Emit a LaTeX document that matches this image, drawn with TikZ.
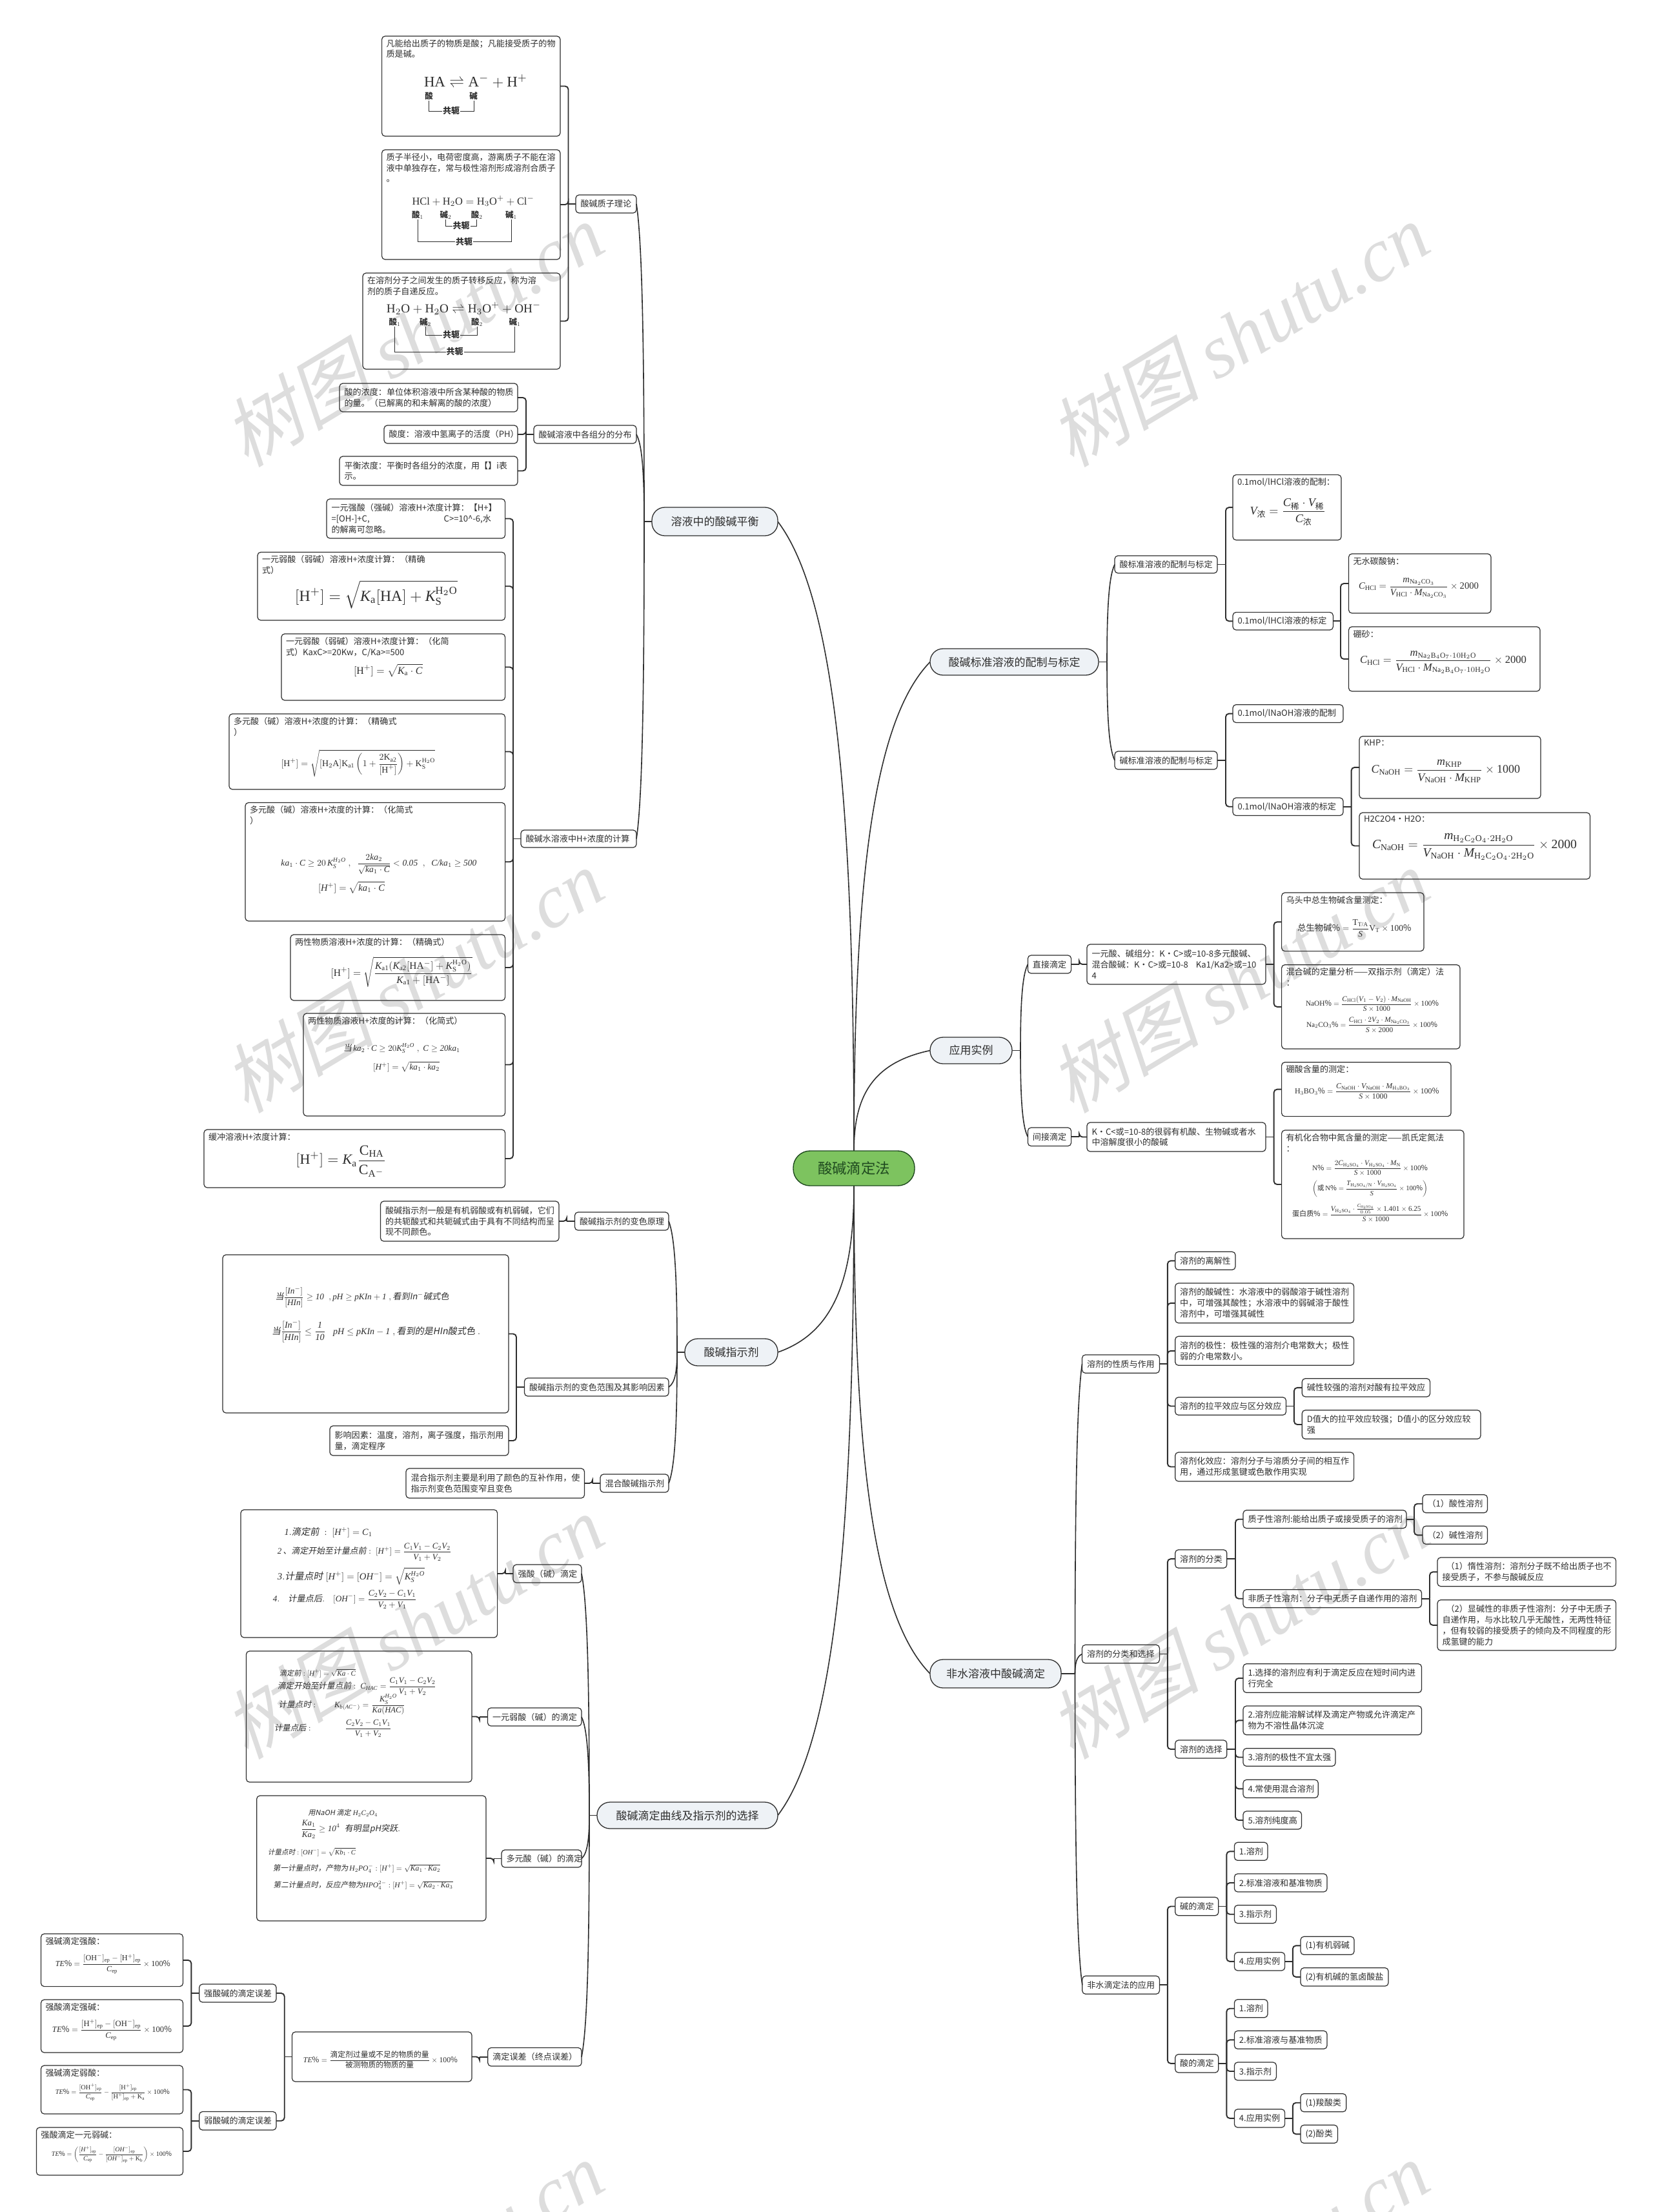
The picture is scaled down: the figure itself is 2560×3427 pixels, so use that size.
\documentclass[tikz,border=0pt]{standalone}
\usepackage{amsmath}
\usepackage{graphicx}
\usepackage{fontspec}
\setmainfont{Noto Sans CJK SC}
\newfontfamily\tnr{Liberation Serif}
\newfontfamily\hand[FakeSlant=0.18]{Noto Sans CJK SC}
\newfontfamily\wmcjk[FakeSlant=0.22]{Noto Sans CJK SC}
\usetikzlibrary{calc,backgrounds}
\providecommand{\geqslant}{\geq}
\providecommand{\leqslant}{\leq}
\definecolor{ink}{HTML}{2E2E2E}
\definecolor{wm}{HTML}{DDDDDD}
\definecolor{pillfill}{HTML}{EEF2F6}
\definecolor{rootfill}{HTML}{7DC35F}
\definecolor{rootink}{HTML}{1F4A1F}
\tikzset{
  leaf/.style={draw=ink,line width=1.2pt,rounded corners=5pt,inner sep=0pt,outer sep=0pt,align=left,text=ink,font=\fontsize{13.1pt}{16.9pt}\selectfont},
  txt/.style={inner sep=0pt,outer sep=0pt,align=left,text=ink,font=\fontsize{13.1pt}{16.9pt}\selectfont},
  pillst/.style={draw=ink,line width=1.3pt,rounded corners=20pt,fill=pillfill,inner sep=0pt,outer sep=0pt,text=ink,font=\fontsize{17pt}{20pt}\selectfont},
  rootst/.style={draw=rootink,line width=1.4pt,rounded corners=26pt,fill=rootfill,inner sep=0pt,outer sep=0pt,text=rootink,font=\fontsize{22.4pt}{26pt}\selectfont},
  conn/.style={draw=ink,line width=1.9pt},
  main/.style={draw=ink,line width=1.6pt},
  fine/.style={draw=ink,line width=0.9pt},
  fmst/.style={inner sep=0pt,outer sep=0pt,text=ink,font=\normalsize},
  cl/.style={inner sep=0pt,outer sep=0pt,text=ink,font=\fontsize{12.5pt}{14pt}\selectfont\bfseries},
  cjl/.style={inner sep=1pt,outer sep=0pt,fill=white,text=ink,font=\fontsize{13pt}{14pt}\selectfont\bfseries},
  wmst/.style={inner sep=0pt,outer sep=0pt,rotate=31,text=wm},
}
% box with vertically centred text
\newcommand{\bx}[6]{\node[leaf,minimum width={(#4-#2)*1pt},minimum height={(#5-#3)*1pt},text width={(#4-#2-15)*1pt}] (#1) at ({(#2+#4)/2},{(#3+#5)/2}) {#6};}
% box with text at the top
\newcommand{\fb}[6]{\node[leaf,minimum width={(#4-#2)*1pt},minimum height={(#5-#3)*1pt}] (#1) at ({(#2+#4)/2},{(#3+#5)/2}) {};
 \node[txt,anchor=north west] (#1-t) at ({#2+7},{#3+5}) {#6};}
\newcommand{\pl}[6]{\node[pillst,minimum width={(#4-#2)*1pt},minimum height={(#5-#3)*1pt}] (#1) at ({(#2+#4)/2},{(#3+#5)/2}) {#6};}
% formula fitted between x1 and x2
\newcommand{\fm}[5]{\node[fmst] (#1) at ({(#2+#3)/2},#4) {\resizebox{\dimexpr #3pt-#2pt\relax}{!}{$\displaystyle #5$}};}
% link parent to child
\newcommand{\lkL}[3]{\draw[conn] (#1.west) -- (#3,0 |- #1.west); \draw[conn,rounded corners=5pt] (#3,0 |- #1.west) -- (#3,0 |- #2.east) -- (#2.east);}
\newcommand{\lkR}[3]{\draw[conn] (#1.east) -- (#3,0 |- #1.east); \draw[conn,rounded corners=5pt] (#3,0 |- #1.east) -- (#3,0 |- #2.west) -- (#2.west);}
% long curve
\newcommand{\cv}[2]{\draw[main] let \p1=(#1), \p2=(#2), \n1={\x2-\x1}, \n2={\y2-\y1} in (#1) .. controls ({\x1+0.75*\n1},{\y1+0.12*\n2}) and (\x2,{\y1+0.45*\n2}) .. (#2);}
% conjugate bracket
\newcommand{\cj}[6]{\draw[fine] (#2,#4) -- (#2,#5) -- (#3,#5) -- (#3,#4); \node[cjl] (#1) at (#6,#5) {共轭};}
\newcommand{\R}[1]{\text{\tnr #1}}
\newcommand{\II}[1]{\text{\tnr\itshape #1}}
\newcommand{\hd}[1]{\text{\hand #1}}
\newcommand{\Hp}{[\R{H}^+]}
\newcommand{\Hh}{[\II{H}^+]}
\newcommand{\Ohh}{[\II{OH}^-]}
\newcommand{\SO}{\R{H}_2\R{SO}_4}
\newcommand{\KS}{\II{K}_{\R{S}}^{\R{H}_2\R{O}}}
\newcommand{\ep}{_{\R{ep}}}
\newcommand{\wmk}[3]{\node[wmst] (#1) at (#2,#3) {\resizebox{655pt}{!}{{\wmcjk 树图}\ {\tnr\itshape shutu.cn}}};}
\begin{document}
\begin{tikzpicture}[x=1pt,y=-1pt]
\useasboundingbox (0,0) rectangle (2560,3427);
% ---------- main pills
\node[rootst,minimum width=188pt,minimum height=54pt] (root) at (1323,1810) {酸碱滴定法};
\pl{p1}{1010}{786}{1205}{830}{溶液中的酸碱平衡}
\pl{p2}{1061}{2074}{1205}{2116}{酸碱指示剂}
\pl{p3}{925}{2792}{1205}{2833}{酸碱滴定曲线及指示剂的选择}
\pl{p4}{1441}{1005}{1702}{1046}{酸碱标准溶液的配制与标定}
\pl{p5}{1441}{1607}{1568}{1648}{应用实例}
\pl{p6}{1441}{2571}{1644}{2615}{非水溶液中酸碱滴定}
% ---------- p1
\bx{a1}{892}{302}{986}{330}{酸碱质子理论}
\bx{a2}{827}{659}{986}{687}{酸碱溶液中各组分的分布}
\bx{a3}{807}{1286}{986}{1313}{酸碱水溶液中H+浓度的计算}
\fb{a11}{591.6}{56}{868}{211}{凡能给出质子的物质是酸；凡能接受质子的物\\质是碱。}
\fm{fa11}{657}{817}{126}{\R{HA}\rightleftharpoons\R{A}^-+\R{H}^+}
\node[cl] (a11s) at (664.6,149) {酸};
\node[cl] (a11b) at (733.5,149) {碱};
\cj{a11c}{664}{734}{156}{172}{699}
\fb{a12}{591.6}{232}{868}{402}{质子半径小，电荷密度高，游离质子不能在溶\\液中单独存在，常与极性溶剂形成溶剂合质子\\。}
\fm{fa12}{638.5}{827.6}{311.4}{\R{HCl}+\R{H}_2\R{O}=\R{H}_3\R{O}^++\R{Cl}^-}
\node[cl] (a12a) at (647,333) {酸$_1$};
\node[cl] (a12b) at (690.4,333) {碱$_2$};
\node[cl] (a12c) at (738.6,333) {酸$_2$};
\node[cl] (a12d) at (792,333) {碱$_1$};
\cj{a12e}{690.4}{738.6}{340}{350}{714.7}
\cj{a12f}{647}{792}{340}{374.4}{719}
\fb{a13}{562}{423}{868}{572}{在溶剂分子之间发生的质子转移反应，称为溶\\剂的质子自递反应。}
\fm{fa13}{599}{838}{477.7}{\R{H}_2\R{O}+\R{H}_2\R{O}\rightleftharpoons\R{H}_3\R{O}^++\R{OH}^-}
\node[cl] (a13a) at (611.4,499.5) {酸$_1$};
\node[cl] (a13b) at (659,499.5) {碱$_2$};
\node[cl] (a13c) at (739,499.5) {酸$_2$};
\node[cl] (a13d) at (797.4,499.5) {碱$_1$};
\cj{a13e}{659}{739}{506}{519}{699}
\cj{a13f}{611.4}{797.4}{506}{545}{704.6}
\bx{a21}{526}{594}{802}{638}{酸的浓度：单位体积溶液中所含某种酸的物质\\的量。（已解离的和未解离的酸的浓度）}
\bx{a22}{595}{659}{802}{687}{酸度：溶液中氢离子的活度（PH）}
\bx{a23}{526}{707}{802}{752}{平衡浓度：平衡时各组分的浓度，用【】i表\\示。}
\bx{a31}{506}{773}{782.6}{834}{一元强酸（强碱）溶液H+浓度计算：【H+】\\=[OH-]+C,\hspace*{115pt}C>=10\^{}-6,水\\的解离可忽略。}
\fb{a32}{399}{855.5}{782.6}{961}{一元弱酸（弱碱）溶液H+浓度计算：（精确\\式）}
\fm{fa32}{457}{709}{921}{\Hp=\sqrt{\II{K}_{\R{a}}[\R{HA}]+\KS}}
\fb{a33}{436}{982}{782.6}{1085}{一元弱酸（弱碱）溶液H+浓度计算：（化简\\式）KaxC>=20Kw，C/Ka>=500}
\fm{fa33}{548}{654.5}{1038.7}{\Hp=\sqrt{\II{K}_{\R{a}}\cdot\II{C}}}
\fb{a34}{355}{1106}{782.6}{1223}{多元酸（碱）溶液H+浓度的计算：（精确式\\）}
\fm{fa34}{435.5}{674}{1182.5}{\Hp=\sqrt{[\R{H}_2\R{A}]\R{K}_{\R{a1}}\left(1+\frac{2\R{K}_{\R{a2}}}{\Hp}\right)+\R{K}_{\R{S}}^{\R{H}_2\R{O}}}}
\fb{a35}{380}{1243.5}{782.6}{1427}{多元酸（碱）溶液H+浓度的计算：（化简式\\）}
\fm{fa35a}{435.5}{738.5}{1338.6}{\II{ka}_1\cdot\II{C}\geqslant 20\,\II{K}_{\II{S}}^{\II{H}_2\II{O}}\;,\;\;\frac{2\II{ka}_2}{\sqrt{\II{ka}_1\cdot\II{C}}}<\II{0.05}\;\;,\;\;\II{C/ka}_1\geqslant\II{500}}
\fm{fa35b}{493}{596}{1375}{\Hh=\sqrt{\II{ka}_1\cdot\II{C}}}
\fb{a36}{450}{1448}{782.6}{1550}{两性物质溶液H+浓度的计算：（精确式）}
\fm{fa36}{512.6}{731.6}{1505.6}{\Hp=\sqrt{\frac{\II{K}_{\R{a1}}(\II{K}_{\R{a2}}[\R{HA}^-]+\KS)}{\II{K}_{\R{a1}}+[\R{HA}^-]}}}
\fb{a37}{470}{1570}{782.6}{1729}{两性物质溶液H+浓度的计算：（化简式）}
\fm{fa37a}{532}{713}{1624}{\hd{当}\,\II{ka}_2\cdot\II{C}\geqslant 20\II{K}_{\II{S}}^{\II{H}_2\II{O}}\;,\;\II{C}\geqslant\II{20ka}_1}
\fm{fa37b}{578}{681}{1652.5}{\Hh=\sqrt{\II{ka}_1\cdot\II{ka}_2}}
\fb{a38}{316}{1750}{782.6}{1840}{缓冲溶液H+浓度计算：}
\fm{fa38}{458.4}{598.5}{1799}{\Hp=\II{K}_{\R{a}}\frac{\R{C}_{\R{HA}}}{\R{C}_{\R{A}^-}}}
% ---------- p2
\bx{b1}{890.5}{1878}{1036}{1906}{酸碱指示剂的变色原理}
\bx{b2}{812.5}{2135}{1036}{2163}{酸碱指示剂的变色范围及其影响因素}
\bx{b3}{930}{2284}{1036}{2312}{混合酸碱指示剂}
\bx{b11}{589.5}{1861}{866}{1923}{酸碱指示剂一般是有机弱酸或有机弱碱，它们\\的共轭酸式和共轭碱式由于具有不同结构而呈\\现不同颜色。}
\fb{b21}{345}{1944}{788}{2189}{}
\fm{fb21a}{426.6}{695.6}{2010}{\hd{当}\frac{[\II{In}^-]}{[\II{HIn}]}\geqslant\II{10}\;\;,\II{pH}\geqslant\II{pKIn}+\II{1}\;,\hd{看到In$^-$碱式色}}
\fm{fb21b}{421}{744}{2063}{\hd{当}\frac{[\II{In}^-]}{[\II{HIn}]}\leqslant\frac{\II{1}}{\II{10}}\;\;\;\II{pH}\leqslant\II{pKIn}-\II{1}\;,\hd{看到的是HIn酸式色}\;.}
\bx{b22}{511}{2209}{788}{2255}{影响因素：温度，溶剂，离子强度，指示剂用\\量，滴定程序}
\bx{b31}{629}{2275}{905.5}{2321}{混合指示剂主要是利用了颜色的互补作用，使\\指示剂变色范围变窄且变色}
% ---------- p3
\bx{c1}{795}{2424}{901}{2452}{强酸（碱）滴定}
\bx{c2}{755.5}{2646}{901}{2674}{一元弱酸（碱）的滴定}
\bx{c3}{777}{2866}{901}{2893}{多元酸（碱）的滴定}
\bx{c4}{755.8}{3172.5}{901}{3201}{滴定误差（终点误差）}
\fb{c11}{373}{2339}{770.6}{2537}{}
\fm{fc11a}{440.7}{577}{2374}{\II{1}.\hd{滴定前}\;:\;\Hh=\II{C}_1}
\fm{fc11b}{430}{699.5}{2404.6}{\II{2}\,\hd{、滴定开始至计量点前}:\;\Hh=\frac{\II{C}_1\II{V}_1-\II{C}_2\II{V}_2}{\II{V}_1+\II{V}_2}}
\fm{fc11c}{430}{658}{2441.5}{\II{3}.\hd{计量点时}\;\Hh=\Ohh=\sqrt{\II{K}_{\II{S}}^{\II{H}_2\II{O}}}}
\fm{fc11d}{423}{646}{2478}{\II{4}.\quad\hd{计量点后}.\quad\Ohh=\frac{\II{C}_2\II{V}_2-\II{C}_1\II{V}_1}{\II{V}_2+\II{V}_1}}
\fb{c21}{381.5}{2558}{731}{2761}{}
\fm{fc21a}{433}{551}{2592}{\hd{滴定前}:\Hh=\sqrt{\II{Ka}\cdot\II{C}}}
\fm{fc21b}{430}{676}{2613}{\hd{滴定开始至计量点前}:\;\II{C}_{\II{HAC}}=\frac{\II{C}_1\II{V}_1-\II{C}_2\II{V}_2}{\II{V}_1+\II{V}_2}}
\fm{fc21c}{431.6}{628}{2641}{\hd{计量点时}:\qquad\II{K}_{\II{b}(\II{AC}^-)}=\frac{\II{K}_{\II{S}}^{\II{H}_2\II{O}}}{\II{Ka}(\II{HAC})}}
\fm{fc21d}{425}{606.6}{2678}{\hd{计量点后}:\qquad\qquad\frac{\II{C}_2\II{V}_2-\II{C}_1\II{V}_1}{\II{V}_1+\II{V}_2}}
\fb{c31}{397.7}{2782}{753}{2976}{}
\fm{fc31a}{477.5}{585}{2809}{\hd{用NaOH 滴定}\;\II{H}_2\II{C}_2\II{O}_4}
\fm{fc31b}{466.4}{620}{2834}{\frac{\II{Ka}_1}{\II{Ka}_2}\geqslant\II{10}^4\;\;\hd{有明显pH突跃}.}
\fm{fc31c}{415}{551}{2869}{\hd{计量点时}:\Ohh=\sqrt{\II{Kb}_1\cdot\II{C}}}
\fm{fc31d}{423}{682}{2895}{\hd{第一计量点时，产物为}\,\II{H}_2\II{PO}_4^-:\Hh=\sqrt{\II{Ka}_1\cdot\II{Ka}_2}}
\fm{fc31e}{423.7}{701.5}{2921}{\hd{第二计量点时，反应产物为}\II{HPO}_4^{2-}:\Hh=\sqrt{\II{Ka}_2\cdot\II{Ka}_3}}
\bx{c41}{452.5}{3148}{731}{3225}{}
\fm{fc41}{470}{709}{3191}{\II{TE}\%=\frac{\text{滴定剂过量或不足的物质的量}}{\text{被测物质的物质的量}}\times\R{100}\%}
\bx{c5}{308.7}{3074}{428}{3102}{强酸碱的滴定误差}
\bx{c6}{308.7}{3271.5}{428}{3300}{弱酸碱的滴定误差}
\fb{c51}{63.5}{2996}{283.5}{3077.6}{强碱滴定强酸：}
\fm{fc51}{85.8}{264}{3043}{\II{TE}\%=\frac{[\R{OH}^-]\ep-[\R{H}^+]\ep}{\II{C}\ep}\times\R{100}\%}
\fb{c52}{63.5}{3098}{283.5}{3180}{强酸滴定强碱：}
\fm{fc52}{81}{266}{3145}{\II{TE}\%=\frac{[\R{H}^+]\ep-[\R{OH}^-]\ep}{\II{C}\ep}\times\R{100}\%}
\fb{c61}{63.5}{3200}{283.5}{3275}{强碱滴定弱酸：}
\fm{fc61}{85.8}{263}{3241.7}{\II{TE}\%=\frac{[\R{OH}^+]\ep}{\II{C}\ep}-\frac{[\R{H}^+]\ep}{[\R{H}^+]\ep+\R{K}_{\R{a}}}\times\R{100}\%}
\fb{c62}{56.4}{3296}{283.5}{3370}{强酸滴定一元弱碱：}
\fm{fc62}{80}{266}{3338}{\II{TE}\%=\left(\frac{[\II{H}^+]\ep}{\II{C}\ep}-\frac{[\II{OH}^-]\ep}{[\II{OH}^-]\ep+\R{K}_{\R{b}}}\right)\times\R{100}\%}
% ---------- p4
\bx{d1}{1727}{861}{1886}{888}{酸标准溶液的配制与标定}
\bx{d2}{1727}{1164}{1886}{1192}{碱标准溶液的配制与标定}
\fb{d11}{1910}{735.6}{2078}{836.7}{0.1mol/lHCl溶液的配制：}
\fm{fd11}{1936.6}{2053.7}{793.7}{\II{V}_{\text{浓}}=\frac{\II{C}_{\text{稀}}\cdot\II{V}_{\text{稀}}}{\II{C}_{\text{浓}}}}
\bx{d12}{1910}{948.6}{2065.4}{976}{0.1mol/lHCl溶液的标定}
\fb{d121}{2089.5}{858}{2310}{950}{无水碳酸钠：}
\fm{fd121}{2105}{2291}{911}{\II{C}_{\R{HCl}}=\frac{\II{m}_{\R{Na}_2\R{CO}_3}}{\II{V}_{\R{HCl}}\cdot\II{M}_{\R{Na}_2\R{CO}_3}}\times\R{2000}}
\fb{d122}{2089.5}{971}{2386}{1071}{硼砂：}
\fm{fd122}{2107}{2365}{1026}{\II{C}_{\R{HCl}}=\frac{\II{m}_{\R{Na}_2\R{B}_4\R{O}_7\cdot 10\R{H}_2\R{O}}}{\II{V}_{\R{HCl}}\cdot\II{M}_{\R{Na}_2\R{B}_4\R{O}_7\cdot 10\R{H}_2\R{O}}}\times\R{2000}}
\bx{d21}{1910}{1091.7}{2081}{1119.5}{0.1mol/lNaOH溶液的配制}
\bx{d22}{1910}{1236}{2081}{1263.5}{0.1mol/lNaOH溶液的标定}
\fb{d221}{2106}{1140.7}{2387}{1237}{KHP：}
\fm{fd221}{2124.6}{2355}{1195}{\II{C}_{\R{NaOH}}=\frac{\II{m}_{\R{KHP}}}{\II{V}_{\R{NaOH}}\cdot\II{M}_{\R{KHP}}}\times\R{1000}}
\fb{d222}{2106}{1259}{2463.5}{1362}{H2C2O4·H2O：}
\fm{fd222}{2126}{2443}{1312}{\II{C}_{\R{NaOH}}=\frac{\II{m}_{\R{H}_2\R{C}_2\R{O}_4\cdot 2\R{H}_2\R{O}}}{\II{V}_{\R{NaOH}}\cdot\II{M}_{\R{H}_2\R{C}_2\R{O}_4\cdot 2\R{H}_2\R{O}}}\times\R{2000}}
% ---------- p5
\bx{e1}{1592.4}{1480}{1659.6}{1508}{直接滴定}
\bx{e2}{1592.4}{1747}{1659.6}{1775.5}{间接滴定}
\bx{e11}{1684}{1463}{1961}{1525}{一元酸、碱组分：K·C>或=10-8多元酸碱、\\混合酸碱：K·C>或=10-8\hspace*{12pt}Ka1/Ka2>或=10\\4}
\bx{e21}{1684}{1739}{1961}{1784}{K·C<或=10-8的很弱有机酸、生物碱或者水\\中溶解度很小的酸碱}
\fb{e111}{1985.6}{1383}{2206}{1473.6}{乌头中总生物碱含量测定：}
\fm{fe111}{2010}{2186.5}{1438}{\text{总生物碱}\%=\frac{\R{T}_{\R{T/A}}}{\II{S}}\R{V}_{\R{T}}\times\R{100}\%}
\fb{e112}{1985.6}{1494.7}{2262}{1625}{混合碱的定量分析——双指示剂（滴定）法\\：}
\fm{fe112a}{2023}{2229}{1555}{\R{NaOH}\%=\frac{\II{C}_{\R{HCl}}(\II{V}_1-\II{V}_2)\cdot\II{M}_{\R{NaOH}}}{\II{S}\times\R{1000}}\times\R{100}\%}
\fm{fe112b}{2024}{2227}{1588}{\R{Na}_2\R{CO}_3\%=\frac{\II{C}_{\R{HCl}}\cdot 2\II{V}_2\cdot\II{M}_{\R{Na}_2\R{CO}_3}}{\II{S}\times\R{2000}}\times\R{100}\%}
\fb{e211}{1985.6}{1645.7}{2248}{1729.6}{硼酸含量的测定：}
\fm{fe211}{2006}{2229.6}{1691}{\R{H}_3\R{BO}_3\%=\frac{\II{C}_{\R{NaOH}}\cdot\II{V}_{\R{NaOH}}\cdot\II{M}_{\R{H}_3\R{BO}_3}}{\II{S}\times\R{1000}}\times\R{100}\%}
\fb{e212}{1985.6}{1751}{2268}{1919}{有机化合物中氮含量的测定——凯氏定氮法\\：}
\fm{fe212a}{2033}{2212}{1810}{\R{N}\%=\frac{2\II{C}_{\SO}\cdot\II{V}_{\SO}\cdot\II{M}_{\R{N}}}{\II{S}\times\R{1000}}\times\R{100}\%}
\fm{fe212b}{2033}{2212}{1842}{\left(\text{或}\,\R{N}\%=\frac{\II{T}_{\SO/\R{N}}\cdot\II{V}_{\SO}}{\II{S}}\times\R{100}\%\right)}
\fm{fe212c}{2002}{2243.4}{1879}{\text{蛋白质}\%=\frac{\II{V}_{\SO}\cdot\frac{\II{C}_{\SO}}{0.05}\times\R{1.401}\times\R{6.25}}{\II{S}\times\R{1000}}\times\R{100}\%}
% ---------- p6
\bx{f1}{1676.5}{2099}{1796.4}{2127.3}{溶剂的性质与作用}
\bx{f2}{1676.5}{2548.3}{1796.4}{2576.7}{溶剂的分类和选择}
\bx{f3}{1676.8}{3061.3}{1796.4}{3089.3}{非水滴定法的应用}
\bx{f11}{1820.7}{1939.3}{1914}{1967.3}{溶剂的离解性}
\bx{f12}{1820.7}{1988}{2097.6}{2049.7}{溶剂的酸碱性：水溶液中的弱酸溶于碱性溶剂\\中，可增强其酸性；水溶液中的弱碱溶于酸性\\溶剂中，可增强其碱性}
\bx{f13}{1820.7}{2070.3}{2097.6}{2115.3}{溶剂的极性：极性强的溶剂介电常数大；极性\\弱的介电常数小。}
\bx{f14}{1820.7}{2164.7}{1992.5}{2192.3}{溶剂的拉平效应与区分效应}
\bx{f15}{1820.7}{2250}{2097.6}{2295}{溶剂化效应：溶剂分子与溶质分子间的相互作\\用，通过形成氢键或色散作用实现}
\bx{f141}{2017.3}{2135.7}{2215.6}{2164}{碱性较强的溶剂对酸有拉平效应}
\bx{f142}{2017.3}{2184.7}{2294}{2229.3}{D值大的拉平效应较强；D值小的区分效应较\\强}
\bx{f21}{1820.7}{2401}{1900.8}{2429.3}{溶剂的分类}
\bx{f22}{1820.7}{2696}{1900.8}{2724}{溶剂的选择}
\bx{f211}{1926}{2339.7}{2179}{2367.7}{质子性溶剂:能给出质子或接受质子的溶剂}
\bx{f212}{1926}{2462.7}{2202.5}{2490.7}{非质子性溶剂：分子中无质子自递作用的溶剂}
\bx{f2111}{2204}{2315.7}{2304.5}{2343.7}{（1）酸性溶剂}
\bx{f2112}{2204}{2364.3}{2304.5}{2392.3}{（2）碱性溶剂}
\bx{f2121}{2227}{2413}{2503.6}{2457.7}{\hspace*{6pt}（1）惰性溶剂：溶剂分子既不给出质子也不\\接受质子，不参与酸碱反应}
\bx{f2122}{2227}{2478.7}{2503.6}{2557}{\hspace*{6pt}（2）显碱性的非质子性溶剂：分子中无质子\\自递作用，与水比较几乎无酸性，无两性特征\\，但有较弱的接受质子的倾向及不同程度的形\\成氢键的能力}
\bx{f221}{1926}{2577.7}{2202.5}{2622.3}{1.选择的溶剂应有利于滴定反应在短时间内进\\行完全}
\bx{f222}{1926}{2643}{2202.5}{2687.7}{2.溶剂应能溶解试样及滴定产物或允许滴定产\\物为不溶性晶体沉淀}
\bx{f223}{1926}{2708.7}{2069}{2736.3}{3.溶剂的极性不宜太强}
\bx{f224}{1926}{2757.3}{2042.3}{2785.3}{4.常使用混合溶剂}
\bx{f225}{1926}{2806}{2016.5}{2834}{5.溶剂纯度高}
\bx{f31}{1820.7}{2939.3}{1887.8}{2967.7}{碱的滴定}
\bx{f32}{1820.7}{3182.7}{1887.8}{3211}{酸的滴定}
\bx{f311}{1912.4}{2854.3}{1964}{2882.3}{1.溶剂}
\bx{f312}{1912.4}{2903}{2056}{2931}{2.标准溶液和基准物质}
\bx{f313}{1912.4}{2951.7}{1977.4}{2979.7}{3.指示剂}
\bx{f314}{1912.4}{3024.7}{1990.6}{3053}{4.应用实例}
\bx{f3141}{2015}{3000.3}{2098}{3028.3}{(1)有机弱碱}
\bx{f3142}{2015}{3048.7}{2151}{3077}{(2)有机碱的氢卤酸盐}
\bx{f321}{1912.4}{3097.7}{1964}{3125.7}{1.溶剂}
\bx{f322}{1912.4}{3146.3}{2056}{3174.3}{2.标准溶液与基准物质}
\bx{f323}{1912.4}{3195}{1977.4}{3223}{3.指示剂}
\bx{f324}{1912.4}{3267.7}{1990.6}{3296}{4.应用实例}
\bx{f3241}{2015}{3243.7}{2085.7}{3271.7}{(1)羧酸类}
\bx{f3242}{2015}{3292.3}{2072.4}{3320.3}{(2)酚类}
% ---------- connectors and watermark behind
\begin{pgfonlayer}{background}
\fill[white] (0,0) rectangle (2560,3427);
\wmk{w1}{640}{518}\wmk{w2}{1919}{518}
\wmk{w3}{640}{1519}\wmk{w4}{1919}{1519}
\wmk{w5}{640}{2520}\wmk{w6}{1919}{2520}
\wmk{w7}{640}{3521}\wmk{w8}{1919}{3521}
\cv{p1.east}{root.north}\cv{p2.east}{root.south}\cv{p3.east}{root.south}
\cv{p4.west}{root.north}\cv{p5.west}{root.north}\cv{p6.west}{root.south}
\coordinate (j1) at (998,0 |- p1.west);
\coordinate (j2) at (1049,0 |- p2.west);
\coordinate (j3) at (913,0 |- p3.west);
\coordinate (j4) at (1715,0 |- p4.east);
\coordinate (j5) at (1581,0 |- p5.east);
\coordinate (j6) at (1665.5,0 |- p6.east);
\draw[conn] (p1.west) -- (j1); \draw[conn] (p2.west) -- (j2); \draw[conn] (p3.west) -- (j3);
\draw[conn] (p4.east) -- (j4); \draw[conn] (p5.east) -- (j5); \draw[conn] (p6.east) -- (j6);
\cv{a1.east}{j1}\cv{a2.east}{j1}\cv{a3.east}{j1}
\cv{b1.east}{j2}\cv{b2.east}{j2}\cv{b3.east}{j2}
\cv{c1.east}{j3}\cv{c2.east}{j3}\cv{c3.east}{j3}\cv{c4.east}{j3}
\cv{d1.west}{j4}\cv{d2.west}{j4}
\cv{e1.west}{j5}\cv{e2.west}{j5}
\cv{f1.west}{j6}\cv{f2.west}{j6}\cv{f3.west}{j6}
\lkL{a1}{a11}{880.5}\lkL{a1}{a12}{880.5}\lkL{a1}{a13}{880.5}
\lkL{a2}{a21}{815}\lkL{a2}{a22}{815}\lkL{a2}{a23}{815}
\lkL{a3}{a31}{795}\lkL{a3}{a32}{795}\lkL{a3}{a33}{795}\lkL{a3}{a34}{795}\lkL{a3}{a35}{795}\lkL{a3}{a36}{795}\lkL{a3}{a37}{795}\lkL{a3}{a38}{795}
\lkL{b1}{b11}{878}\lkL{b2}{b21}{800}\lkL{b2}{b22}{800}\lkL{b3}{b31}{918}
\lkL{c1}{c11}{783}\lkL{c2}{c21}{743}\lkL{c3}{c31}{765}\lkL{c4}{c41}{743}
\lkL{c41}{c5}{440.7}\lkL{c41}{c6}{440.7}
\lkL{c5}{c51}{296.4}\lkL{c5}{c52}{296.4}\lkL{c6}{c61}{296.4}\lkL{c6}{c62}{296.4}
\lkR{d1}{d11}{1899}\lkR{d1}{d12}{1899}\lkR{d12}{d121}{2077}\lkR{d12}{d122}{2077}
\lkR{d2}{d21}{1899}\lkR{d2}{d22}{1899}\lkR{d22}{d221}{2093.6}\lkR{d22}{d222}{2093.6}
\lkR{e1}{e11}{1672}\lkR{e2}{e21}{1672}
\lkR{e11}{e111}{1973.6}\lkR{e11}{e112}{1973.6}\lkR{e21}{e211}{1973.6}\lkR{e21}{e212}{1973.6}
\lkR{f1}{f11}{1808.8}\lkR{f1}{f12}{1808.8}\lkR{f1}{f13}{1808.8}\lkR{f1}{f14}{1808.8}\lkR{f1}{f15}{1808.8}
\lkR{f14}{f141}{2004.9}\lkR{f14}{f142}{2004.9}
\lkR{f2}{f21}{1808.8}\lkR{f2}{f22}{1808.8}
\lkR{f21}{f211}{1914}\lkR{f21}{f212}{1914}
\lkR{f211}{f2111}{2191}\lkR{f211}{f2112}{2191}
\lkR{f212}{f2121}{2215}\lkR{f212}{f2122}{2215}
\lkR{f22}{f221}{1914}\lkR{f22}{f222}{1914}\lkR{f22}{f223}{1914}\lkR{f22}{f224}{1914}\lkR{f22}{f225}{1914}
\lkR{f3}{f31}{1808.8}\lkR{f3}{f32}{1808.8}
\lkR{f31}{f311}{1900.3}\lkR{f31}{f312}{1900.3}\lkR{f31}{f313}{1900.3}\lkR{f31}{f314}{1900.3}
\lkR{f314}{f3141}{2002.8}\lkR{f314}{f3142}{2002.8}
\lkR{f32}{f321}{1900.3}\lkR{f32}{f322}{1900.3}\lkR{f32}{f323}{1900.3}\lkR{f32}{f324}{1900.3}
\lkR{f324}{f3241}{2002.8}\lkR{f324}{f3242}{2002.8}
\end{pgfonlayer}
\end{tikzpicture}
\end{document}
